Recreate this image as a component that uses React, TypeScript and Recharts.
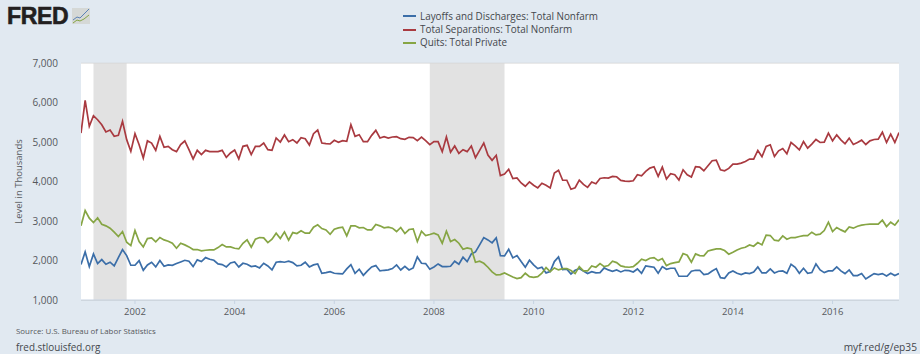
import React from "react";
import { ComposedChart, Line, XAxis, YAxis, CartesianGrid, ReferenceArea, Legend } from "recharts";

const FIRST_YEAR = 2000 + 11 / 12;
const separations = [5236,6063,5405,5675,5574,5447,5262,5312,5152,5177,5532,5068,4772,5219,4941,4603,5042,4983,4797,5152,4873,4899,4814,4764,4941,5034,4814,4578,4797,4688,4797,4764,4764,4764,4797,4620,4730,4806,4578,4899,4924,4688,4899,4899,4983,4814,4797,5110,5008,5186,5017,5068,4983,5118,5093,4932,5219,5312,4983,4966,4958,5051,5000,5042,5025,5447,5152,5194,5017,5017,5177,5304,5110,5143,5110,5135,5143,5093,5076,5127,5118,5042,5135,5042,4941,5017,5017,4764,5135,4747,4907,4721,4814,4764,4907,4612,4797,4983,4679,4544,4671,4156,4198,4316,4080,4097,3970,3886,3996,3911,3844,3962,3911,3844,4224,4291,4038,4038,3810,3848,4042,3932,3857,3992,3949,4084,4101,4093,4135,4127,4034,4017,4008,4025,4177,4152,4262,4346,4380,4135,4371,4068,4203,4177,4042,4304,4177,4118,4380,4371,4279,4405,4532,4549,4304,4279,4338,4447,4447,4473,4515,4574,4574,4793,4633,4895,4937,4641,4785,4844,4709,4996,4911,4810,5021,4852,4954,5072,4996,5004,5232,5038,5190,5063,4962,5106,4945,4996,5055,4945,5038,5072,5080,5257,4996,5207,4996,5249];
const layoffs = [1898,2220,1848,2169,1924,2025,1907,1958,1864,2076,2280,2127,1881,1881,2000,1754,1890,1958,1839,2000,1856,1890,1881,1924,1966,2008,1983,1848,2017,1975,2076,2034,2008,1915,1898,1839,1941,1966,1839,1932,1907,1848,1864,1814,1932,1864,1763,1958,1975,1958,1983,1949,1864,1881,1958,1839,1890,1915,1678,1695,1720,1678,1670,1661,1788,1898,1678,1780,1627,1737,1839,1873,1737,1754,1763,1797,1890,1763,1856,1763,1814,2093,1932,1924,1780,1839,1915,1848,1848,1856,1983,1907,2085,1975,2169,2220,2398,2584,2525,2449,2576,2127,2119,2288,2068,2127,1975,1831,2008,1890,1797,1831,1687,1720,1975,2093,1771,1780,1661,1754,1797,1737,1670,1720,1687,1695,1814,1763,1729,1763,1712,1754,1746,1712,1788,1678,1864,1848,1831,1678,1848,1780,1805,1805,1602,1602,1602,1729,1754,1754,1644,1661,1737,1797,1568,1551,1687,1737,1678,1644,1687,1670,1712,1839,1687,1687,1788,1687,1729,1737,1678,1907,1831,1678,1805,1678,1695,1915,1763,1695,1737,1737,1839,1737,1670,1763,1619,1619,1670,1534,1602,1670,1644,1670,1610,1678,1619,1670];
const quits = [2881,3270,3076,2966,3084,2923,2881,2822,2720,2610,2737,2466,2381,2762,2483,2347,2559,2576,2474,2585,2525,2491,2440,2313,2440,2398,2347,2280,2280,2245,2262,2271,2271,2330,2406,2347,2347,2313,2296,2440,2525,2339,2542,2585,2576,2457,2542,2695,2559,2728,2517,2711,2686,2754,2695,2695,2847,2906,2813,2779,2669,2796,2830,2847,2627,2881,2881,2830,2839,2779,2779,2915,2881,2830,2847,2822,2737,2839,2686,2788,2805,2483,2745,2635,2661,2695,2652,2440,2745,2483,2534,2440,2288,2322,2296,1958,1983,1932,1831,1712,1636,1644,1687,1636,1585,1543,1568,1678,1593,1576,1593,1678,1822,1720,1814,1763,1797,1797,1746,1670,1848,1737,1737,1864,1831,1924,1848,1873,1983,1949,1864,1839,1831,1848,1932,2034,2000,2059,2076,2000,2051,1873,1924,1949,1966,2178,2136,1958,2169,2127,2119,2246,2271,2296,2296,2254,2161,2212,2271,2313,2339,2398,2364,2457,2398,2644,2635,2517,2500,2627,2542,2584,2584,2610,2635,2635,2720,2652,2669,2762,2974,2737,2839,2779,2728,2855,2822,2872,2898,2915,2923,2923,2923,3025,2864,2974,2898,3033];
const xTicks = [2002, 2004, 2006, 2008, 2010, 2012, 2014, 2016];
const yTicks = [1000, 2000, 3000, 4000, 5000, 6000, 7000];
const recessions = [[2001 + 2 / 12, 2001 + 10 / 12], [2007 + 11 / 12, 2009 + 5 / 12]];

const LAST_YEAR = FIRST_YEAR + 197 / 12;
const rows = separations.map((s, i) => ({ t: FIRST_YEAR + i / 12, separations: s, layoffs: layoffs[i], quits: quits[i] }));
const BLUE = "#3b6ea8", RED = "#a93a40", GREEN = "#86a544";
const FONT = "'Open Sans', sans-serif";

const LegendBox = ({ payload }: any) => (
  <div style={{ fontFamily: FONT, fontSize: 9.9, color: "#44474c", lineHeight: "13.4px" }}>
    {(payload || []).map((p: any) => (
      <div key={p.value} style={{ display: "flex", alignItems: "center", whiteSpace: "nowrap" }}>
        <span style={{ display: "inline-block", width: 13, height: 2, background: p.color, marginRight: 4 }} />
        {p.value}
      </div>
    ))}
  </div>
);

export default function App() {
  return (
    <div style={{ position: "absolute", left: 0, top: 0, width: 920, height: 354, background: "#e1e9f1", overflow: "hidden" }}>
      <div style={{ position: "absolute", left: 7, top: 1, fontFamily: "'Liberation Sans', sans-serif", fontWeight: 700, fontSize: 23, letterSpacing: -0.3, color: "#231f20", WebkitTextStroke: "0.6px #231f20", lineHeight: "30px" }}>FRED</div>
      <svg style={{ position: "absolute", left: 72, top: 8 }} width={18} height={16}>
        <rect width={18} height={16} fill="#d5d8d6" />
        <polyline points="1,12 5,9 8,10 12,6 17,1" fill="none" stroke="#5b82b5" strokeWidth={1} />
        <polyline points="1,15 5,12 8,13 12,11 17,7" fill="none" stroke="#86a544" strokeWidth={1} />
      </svg>
      <ComposedChart width={920} height={354} data={rows} margin={{ top: 63.5, right: 21, bottom: 0, left: 0 }} style={{ position: "absolute", left: 0, top: 0 }}>
        <ReferenceArea x1={FIRST_YEAR} x2={LAST_YEAR} y1={1000} y2={7000} fill="#ffffff" fillOpacity={1} stroke="none" />
        <CartesianGrid vertical={false} horizontal stroke="#d2d2d2" strokeWidth={1.5} />
        {recessions.map(([a, b]) => (
          <ReferenceArea key={a} x1={a} x2={b} fill="#000000" fillOpacity={0.115} stroke="none" />
        ))}
        <XAxis dataKey="t" type="number" domain={[FIRST_YEAR, LAST_YEAR]} ticks={xTicks} allowDataOverflow
          tickFormatter={(v: number) => String(v)} tick={{ fill: "#55585c", fontSize: 9.5, fontFamily: FONT }}
          stroke="#c6d3e2" tickSize={4} tickMargin={4} height={54} />
        <YAxis type="number" domain={[1000, 7000]} ticks={yTicks} width={81} axisLine={false} tickLine={false}
          tickFormatter={(v: number) => v.toLocaleString("en-US")} tick={{ fill: "#55585c", fontSize: 10, fontFamily: FONT }}
          tickMargin={17}
          label={{ value: "Level in Thousands", angle: -90, position: "insideLeft", dx: 14, dy: 42, fill: "#55585c", fontSize: 9.5, fontFamily: FONT }} />
        <Legend content={<LegendBox />} itemSorter={null as any} layout="vertical" verticalAlign="middle" align="center" wrapperStyle={{ left: 403, top: 9.5, width: 240 }} />
        <Line name="Layoffs and Discharges: Total Nonfarm" dataKey="layoffs" stroke={BLUE} strokeWidth={1.7} dot={false} isAnimationActive={false} />
        <Line name="Total Separations: Total Nonfarm" dataKey="separations" stroke={RED} strokeWidth={1.7} dot={false} isAnimationActive={false} />
        <Line name="Quits: Total Private" dataKey="quits" stroke={GREEN} strokeWidth={1.7} dot={false} isAnimationActive={false} />
      </ComposedChart>
      <div style={{ position: "absolute", left: 16, top: 325, fontFamily: FONT, fontSize: 7.9, color: "#55585c", lineHeight: "12px", whiteSpace: "nowrap" }}>Source: U.S. Bureau of Labor Statistics</div>
      <div style={{ position: "absolute", left: 16, top: 340, fontFamily: FONT, fontSize: 9.9, color: "#44474c", lineHeight: "14px", whiteSpace: "nowrap" }}>fred.stlouisfed.org</div>
      <div style={{ position: "absolute", right: 3, top: 340, fontFamily: FONT, fontSize: 10.2, color: "#44474c", lineHeight: "14px", whiteSpace: "nowrap" }}>myf.red/g/ep35</div>
    </div>
  );
}
